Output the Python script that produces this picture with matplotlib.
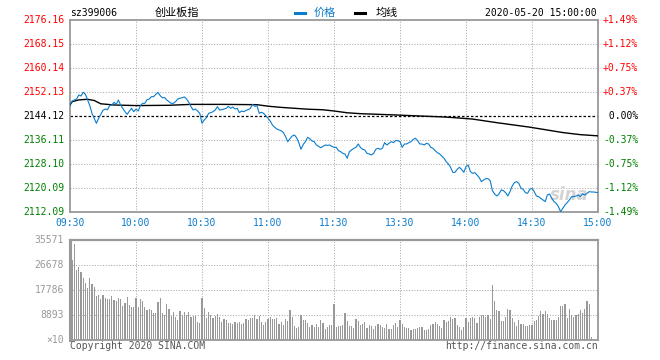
import numpy as np
import matplotlib
matplotlib.use("Agg")
import matplotlib.pyplot as plt

# ---------------- data ----------------
title_code = "sz399006"
title_name = "创业板指"
timestamp = "2020-05-20 15:00:00"
prev_close = 2144.12
y_min, y_max = 2112.09, 2176.16
price_ticks = [2112.09, 2120.09, 2128.10, 2136.11, 2144.12, 2152.13, 2160.14, 2168.15, 2176.16]
pct_ticks = ["-1.49%", "-1.12%", "-0.75%", "-0.37%", " 0.00%", "+0.37%", "+0.75%", "+1.12%", "+1.49%"]
time_labels = ["09:30", "10:00", "10:30", "11:00", "11:30", "13:30", "14:00", "14:30", "15:00"]
vol_max = 35571
vol_ticks = [8893, 17786, 26678, 35571]

# price per minute (index 0 = 09:30, 120 = 11:30/13:00, 240 = 15:00)
price = [
    2147.80, 2149.13, 2149.46, 2149.80, 2151.13, 2150.80, 2152.02, 2151.36, 2149.46, 2147.57,
    2145.02, 2143.35, 2141.68, 2143.35, 2144.68, 2146.02, 2146.46, 2146.20, 2147.57, 2147.80,
    2148.69, 2148.02, 2149.46, 2147.80, 2146.69, 2145.57, 2144.68, 2145.79, 2146.69, 2145.57,
    2146.46, 2145.79, 2147.57, 2148.35, 2148.35, 2149.58, 2149.80, 2150.58, 2150.58, 2151.36,
    2152.02, 2150.91, 2150.24, 2150.24, 2149.46, 2148.91, 2148.35, 2148.35, 2148.91, 2149.80,
    2150.02, 2150.24, 2150.47, 2149.80, 2148.69, 2147.24, 2146.13, 2146.46, 2145.79, 2145.02,
    2141.68, 2142.79, 2143.57, 2145.02, 2145.24, 2145.57, 2146.13, 2147.24, 2146.13, 2146.24,
    2146.46, 2146.69, 2147.35, 2146.69, 2147.13, 2146.46, 2146.69, 2145.24, 2145.79, 2145.57,
    2146.02, 2146.24, 2146.69, 2148.02, 2147.35, 2147.57, 2145.02, 2145.35, 2145.02, 2144.24,
    2143.35, 2142.46, 2141.13, 2140.40, 2139.80, 2139.45, 2139.22, 2138.60, 2137.22, 2135.55,
    2136.60, 2137.45, 2137.79, 2136.90, 2135.22, 2133.02, 2134.60, 2135.55, 2137.02, 2136.50,
    2135.80, 2135.55, 2134.45, 2134.00, 2133.55, 2134.00, 2134.45, 2134.30, 2134.45, 2134.00,
    2133.67, 2133.67, 2132.56, 2132.23, 2131.67, 2131.45, 2130.00, 2132.23, 2132.78, 2133.34,
    2133.67, 2134.78, 2133.67, 2133.00, 2132.78, 2131.67, 2131.45, 2131.11, 2131.67, 2133.00,
    2133.34, 2133.00, 2133.34, 2135.23, 2134.45, 2135.01, 2135.56, 2135.23, 2135.90, 2135.90,
    2135.56, 2133.67, 2134.78, 2134.78, 2135.23, 2135.56, 2136.34, 2136.68, 2135.90, 2134.78,
    2134.78, 2134.45, 2135.01, 2134.78, 2133.67, 2133.34, 2132.56, 2131.89, 2131.45, 2130.78,
    2130.00, 2128.89, 2128.11, 2127.00, 2125.33, 2125.33, 2126.33, 2127.00, 2126.33, 2125.33,
    2127.22, 2127.78, 2125.56, 2125.00, 2125.22, 2124.44, 2123.60, 2122.22, 2122.77, 2123.22,
    2123.22, 2122.55, 2119.22, 2118.10, 2117.44, 2118.10, 2119.44, 2119.22, 2118.55, 2117.44,
    2118.88, 2120.77, 2121.89, 2122.22, 2121.67, 2120.00, 2119.66, 2118.55, 2118.33, 2119.66,
    2120.00, 2118.88, 2117.44, 2117.21, 2116.66, 2116.10, 2115.55, 2117.77, 2118.10, 2116.66,
    2115.55, 2114.99, 2113.88, 2112.21, 2113.32, 2114.43, 2115.21, 2116.10, 2117.21, 2117.21,
    2117.44, 2117.77, 2117.21, 2118.10, 2117.77, 2118.33, 2118.88, 2118.77, 2118.77, 2118.66,
    2118.55,
]

avg_minutes = [0, 1, 4, 8, 11, 14, 20, 30, 45, 55, 70, 85, 90, 96, 102, 108, 115, 120,
               126, 132, 147, 160, 170, 176, 183, 194, 209, 224, 232, 240]
avg_values = [2147.8, 2148.9, 2149.5, 2149.7, 2149.3, 2148.2, 2147.8, 2147.6, 2147.7, 2148.0,
              2148.0, 2147.9, 2147.4, 2147.0, 2146.7, 2146.4, 2146.2, 2145.8,
              2145.2, 2144.9, 2144.5, 2144.1, 2143.8, 2143.5, 2143.1, 2141.9, 2140.4, 2138.6,
              2137.9, 2137.5]

vol_am = [35571, 28560, 34034, 24752, 26061, 24276, 22134, 20349, 18564, 22134,
          19992, 18921, 15708, 16065, 14756, 16065, 14994, 14637, 14637, 15708,
          14280, 14042, 14994, 14637, 12138, 13209, 15351, 12495, 11781, 11781,
          14994, 11781, 14637, 13923, 11781, 10710, 11067, 10710, 9639, 9639,
          13566, 14994, 9639, 8925, 12852, 11067, 8568, 9996, 8211, 7140,
          10353, 8925, 9996, 8925, 9996, 8211, 8568, 8568, 6426, 6069,
          14994, 11424, 7854, 9996, 8925, 7854, 8568, 9282, 8211, 6426,
          7497, 7140, 6069, 6069, 5712, 6426, 6069, 6426, 5712, 6069,
          7497, 7140, 7854, 7854, 8925, 7497, 8568, 6426, 5355, 6426,
          7497, 8211, 7497, 7497, 7854, 5712, 6426, 5355, 7497, 6783,
          10710, 8211, 4998, 4284, 4641, 8925, 7140, 7140, 6069, 4641,
          5355, 4641, 5712, 4641, 7140, 6069, 3927, 4641, 5355, 5355]
vol_pm = [12852, 4641, 4998, 4998, 5355, 9639, 6783, 4998, 4998, 4284,
          7497, 6783, 5355, 5712, 6426, 4284, 5355, 4998, 3927, 4998,
          5712, 5355, 4641, 4284, 5712, 3927, 3927, 5355, 6069, 4641,
          7140, 5712, 4641, 4284, 4284, 3570, 3927, 3927, 4284, 4641,
          4641, 3570, 3570, 3927, 5355, 5712, 6426, 5712, 4998, 4284,
          7140, 6426, 6783, 8211, 7497, 7854, 5355, 4641, 3570, 4641,
          7854, 6426, 7854, 8211, 7854, 6069, 8211, 8925, 8925, 8211,
          8925, 7497, 19635, 13923, 10710, 10353, 6783, 6783, 8211, 11067,
          10710, 7854, 6426, 4998, 7140, 5712, 5712, 4998, 4998, 5355,
          5355, 6783, 7140, 8568, 10353, 9282, 10353, 9282, 7854, 7140,
          7140, 7140, 8211, 12138, 12138, 12852, 7854, 11067, 8925, 8211,
          8925, 9282, 10710, 9639, 11067, 13923, 12852, 1071]

# ---------------- style ----------------
W, H = 660, 360
BLUE = "#0a7ccc"
RED = "#ff0000"
GREEN = "#008000"
FRAME = "#999999"
GRID = "#aaaaaa"
MONO = "DejaVu Sans Mono"
CJK = ["Noto Sans CJK SC", "DejaVu Sans"]

fig = plt.figure(figsize=(W / 100, H / 100), dpi=100)
fig.patch.set_facecolor("white")


def fx(x):
    return x / W


def fy(y):
    return 1 - y / H


L, R = 70, 598
ax = fig.add_axes([fx(L), fy(212), (R - L) / W, 192 / H])
axv = fig.add_axes([fx(L), fy(340), (R - L) / W, 100 / H])

n_minutes = 240
xt = np.arange(0, n_minutes + 1, 30)

for a in (ax, axv):
    a.set_xlim(0, n_minutes)
    a.set_xticks([])
    a.set_yticks([])
    for s in a.spines.values():
        s.set_color(FRAME)
        s.set_linewidth(1.3)
    for x in xt[1:-1]:
        a.axvline(x, color=GRID, lw=0.75, dashes=(1, 1.6), zorder=1)

# ---------------- price panel ----------------
ax.set_ylim(y_min, y_max)
for v in price_ticks[1:-1]:
    if abs(v - prev_close) < 1e-6:
        ax.axhline(v, color="black", lw=0.9, dashes=(2, 1.6), zorder=2)
    else:
        ax.axhline(v, color=GRID, lw=0.75, dashes=(1, 1.6), zorder=1)

ax.plot(np.arange(len(price)), price, color=BLUE, lw=0.8, zorder=4)
ax.plot(avg_minutes, avg_values, color="black", lw=1.0, zorder=3)

ytr = ax.get_yaxis_transform()
for v, p in zip(price_ticks, pct_ticks):
    if v > prev_close + 1e-6:
        c = RED
    elif v < prev_close - 1e-6:
        c = GREEN
    else:
        c = "black"
    ax.text(-6 / (R - L), v, f"{v:.2f}", transform=ytr, ha="right", va="center",
            fontsize=7, family=MONO, color=c)
    ax.text(1 + 5 / (R - L), v, p, transform=ytr, ha="left", va="center",
            fontsize=7, family=MONO, color=c)

xtr = ax.get_xaxis_transform()
for x, lab in zip(xt, time_labels):
    ax.text(x, -11.5 / 192, lab, transform=xtr, ha="center", va="center",
            fontsize=7, family=MONO, color=BLUE)

# sina watermark
ax.text(0.945, 0.09, "sina", transform=ax.transAxes, ha="center", va="center",
        fontsize=12, fontweight="bold", style="italic", color="#c8c8c8", alpha=0.8, zorder=2)

# ---------------- volume panel ----------------
vol = vol_am + vol_pm
axv.set_ylim(0, vol_max)
for v in vol_ticks[:-1]:
    axv.axhline(v, color=GRID, lw=0.75, dashes=(1, 1.6), zorder=1)
bars = axv.bar(np.arange(len(vol)), vol, width=0.5, color="#999999", lw=0, zorder=2,
               align="center")
for b in bars:
    b.set_antialiased(False)
axv.spines["left"].set_linewidth(2.2)
axv.spines["top"].set_linewidth(1.6)

vtr = axv.get_yaxis_transform()
for v in vol_ticks:
    axv.text(-6 / (R - L), v, f"{v}", transform=vtr, ha="right", va="center",
             fontsize=7, family=MONO, color="#999999")
axv.text(-6 / (R - L), 0, "×10", transform=vtr, ha="right", va="center",
         fontsize=7, family=MONO, color="#999999")

# ---------------- header / footer ----------------
fig.text(fx(70), fy(13), title_code, ha="left", va="center", fontsize=7, family=MONO, color="black")
fig.text(fx(177), fy(13), title_name, ha="center", va="center", fontsize=8, family=CJK, color="black")
fig.add_artist(plt.Line2D([fx(295), fx(305)], [fy(13), fy(13)], color=BLUE, lw=2.2))
fig.text(fx(314), fy(13), "价格", ha="left", va="center", fontsize=8, family=CJK, color=BLUE)
fig.add_artist(plt.Line2D([fx(355), fx(365)], [fy(13), fy(13)], color="black", lw=2.2))
fig.text(fx(376), fy(13), "均线", ha="left", va="center", fontsize=8, family=CJK, color="black")
fig.text(fx(597), fy(13), timestamp, ha="right", va="center", fontsize=7, family=MONO, color="black")

fig.text(fx(70), fy(346), "Copyright 2020 SINA.COM", ha="left", va="center", fontsize=7,
         family=MONO, color="#555555")
fig.text(fx(598), fy(346), "http://finance.sina.com.cn", ha="right", va="center", fontsize=7,
         family=MONO, color="#555555")

fig.savefig("out.png", dpi=100, facecolor="white")
